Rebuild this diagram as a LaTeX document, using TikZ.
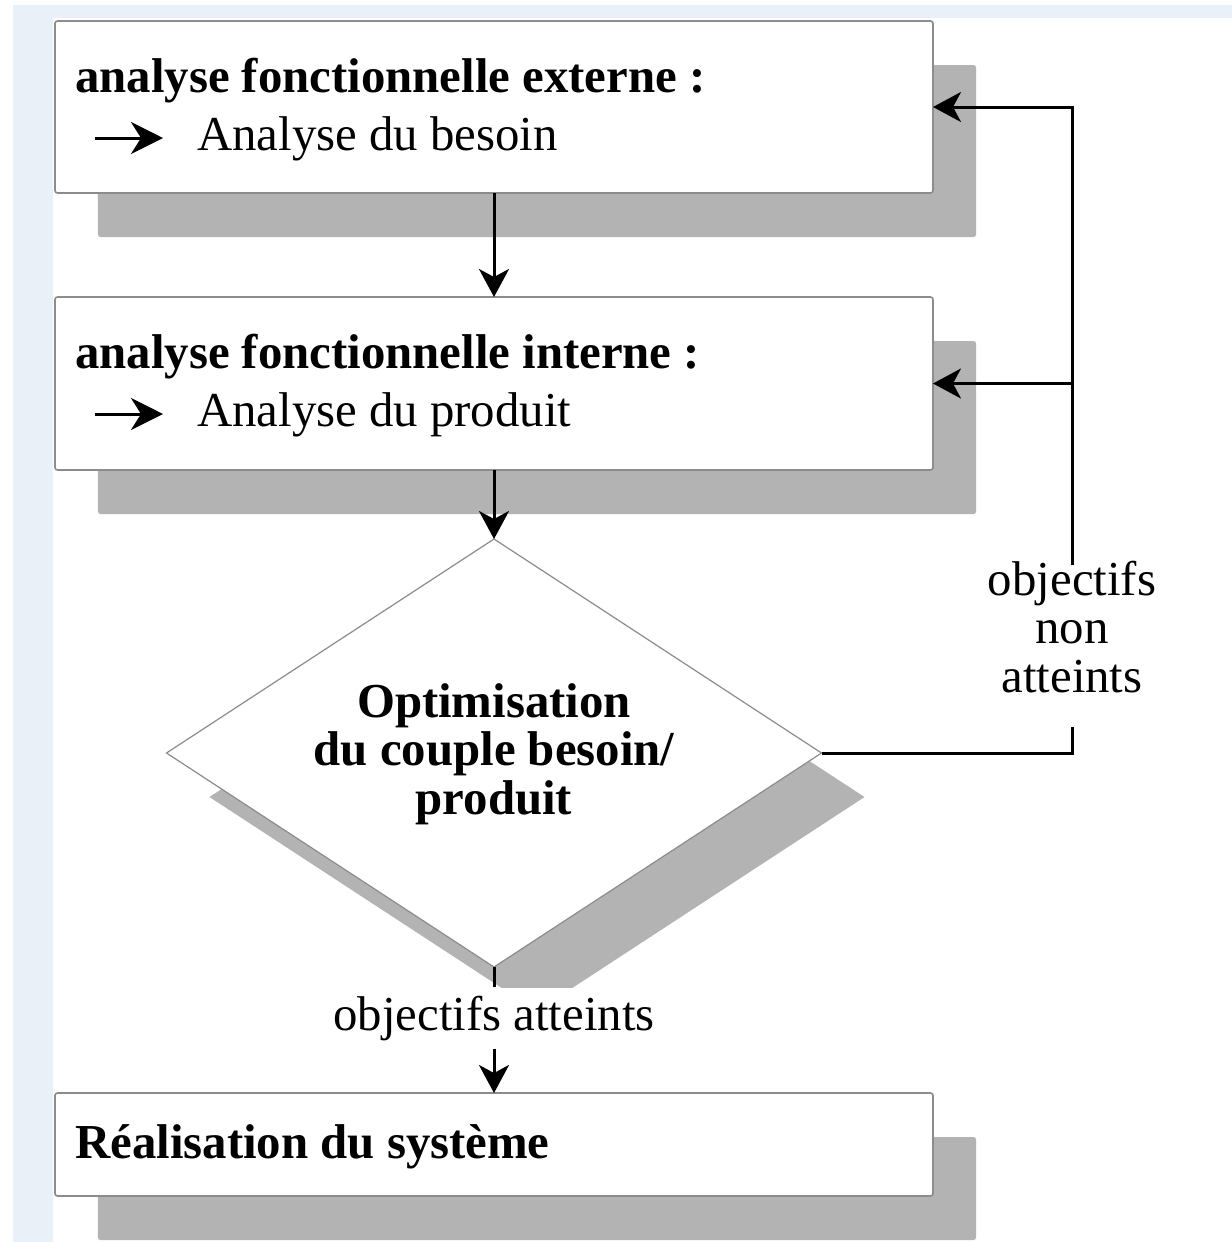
\documentclass[tikz,border=0pt]{standalone}
\usepackage{fontspec}
\setmainfont{Liberation Serif}
\usetikzlibrary{arrows.meta,shapes.geometric,shadows}
\definecolor{bandblue}{HTML}{EAF0F8}
\definecolor{shadowgray}{HTML}{B3B3B3}
\definecolor{framegray}{HTML}{8C8C8C}
\newcommand\figsize{\fontsize{48.8bp}{48.5bp}\selectfont}
\begin{document}
\begin{tikzpicture}[x=1bp,y=-1bp,
  every node/.style={font=\figsize},
  flatshadow/.style={copy shadow={shadow xshift=43bp, shadow yshift=-44bp, fill=shadowgray, draw=none}},
  stagebox/.style={draw=framegray, line width=1.6bp, fill=white, rounded corners=2.5bp,
    minimum width=878bp, inner sep=0pt, outer sep=0pt, flatshadow},
  decision/.style={diamond, draw=framegray, line width=1.2bp, fill=white,
    minimum width=655bp, minimum height=428bp, inner sep=0pt, outer sep=0pt, flatshadow},
  title/.style={anchor=base west, inner sep=0pt, font=\figsize\bfseries},
  item/.style={anchor=base west, inner sep=0pt},
  conn/.style={line width=3bp, -{Stealth[length=28bp,width=30bp,inset=8bp]}},
  plain/.style={line width=3bp},
  pointer/.style={line width=3bp, -{Stealth[length=32bp,width=32bp,inset=10bp]}}
]
\useasboundingbox (0,0) rectangle (1232,1242);
% page frame: light band along the top and the left side
\fill[white] (0,0) rectangle (1232,1242);
\fill[bandblue] (13,5) rectangle (1232,1242);
\fill[white] (53,18) rectangle (1232,1242);

% stages
\node[stagebox, minimum height=172bp] (box1) at (494,107) {};
\node[stagebox, minimum height=173bp] (box2) at (494,383.5) {};
\node[decision] (opt) at (494,753) {};
\node[stagebox, minimum height=103bp] (box4) at (494,1144.5) {};

% stage texts (multi-line nodes sit on the baseline of their last line)
\node[title] (t1) at (75,92) {analyse fonctionnelle externe :};
\node[item] (s1) at (197,150) {Analyse du besoin};
\node[title] (t2) at (75,368) {analyse fonctionnelle interne :};
\node[item] (s2) at (197,426) {Analyse du produit};
\node[title] (t4) at (75,1158) {Réalisation du système};
\node[font=\figsize\bfseries, align=center, anchor=base, inner sep=0pt] (optt) at (494,814)
  {Optimisation\\du couple besoin/\\produit};

% small pointers in front of the second lines
\coordinate (g1a) at (95,138);  \coordinate (g1b) at (163,138);
\coordinate (g2a) at (95,414);  \coordinate (g2b) at (163,414);
\draw[pointer] (g1a) -- (g1b);
\draw[pointer] (g2a) -- (g2b);

% outcome labels
\node[align=center, anchor=base, inner sep=0pt] (nok) at (1072,692) {objectifs\\non\\atteints};
\node[fill=white, anchor=base, inner xsep=4bp, inner ysep=8bp] (ok) at (494,1030) {objectifs atteints};

% main flow
\draw[conn] (box1.south) -- (box2.north);
\draw[conn] (box2.south) -- (opt.north);
\draw[plain] (opt.south) -- (ok.north);
\draw[conn] (ok.south) -- (box4.north);

% feedback loop
\coordinate (fbtop) at (1072,565);
\coordinate (fbbot) at (1072,727);
\draw[plain] (opt.east) -| (fbbot);
\draw[conn] (fbtop) |- (box1.east);
\draw[conn] (fbtop |- box2.east) -- (box2.east);
\end{tikzpicture}
\end{document}
